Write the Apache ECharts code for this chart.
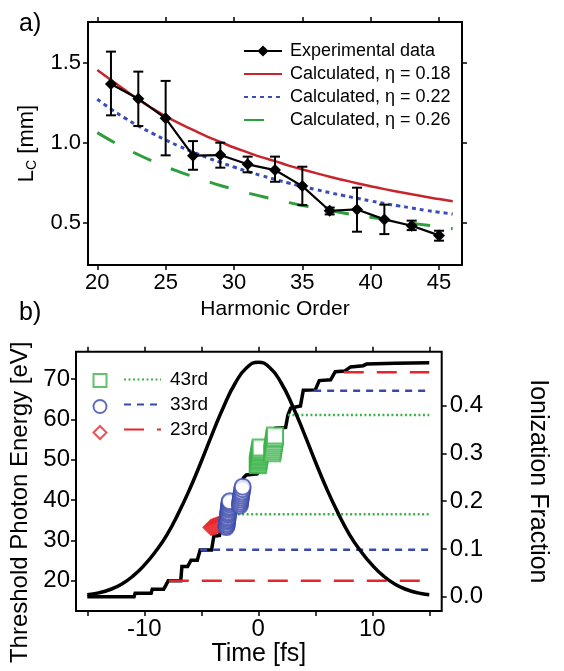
<!DOCTYPE html>
<html>
<head>
<meta charset="utf-8">
<script src="https://cdn.jsdelivr.net/npm/echarts@6/dist/echarts.min.js"></script>
<style>html,body{margin:0;padding:0;background:#fff}#c{width:564px;height:671px}</style>
</head>
<body>
<div id="c"></div>
<script>
// ---------- Panel a) data ----------
const harmonics = [21, 23, 25, 27, 29, 31, 33, 35, 37, 39, 41, 43, 45];
const lcExp     = [1.367, 1.275, 1.152, 0.919, 0.923, 0.865, 0.829, 0.729, 0.575, 0.583, 0.521, 0.481, 0.421];
const errLow    = [1.171, 1.104, 0.921, 0.831, 0.844, 0.815, 0.756, 0.610, 0.552, 0.444, 0.429, 0.454, 0.388];
const errHigh   = [1.569, 1.444, 1.386, 1.010, 1.000, 0.913, 0.913, 0.850, 0.595, 0.719, 0.613, 0.513, 0.450];
const calcOrders = [20,21,22,23,24,25,26,27,28,29,30,31,32,33,34,35,36,37,38,39,40,41,42,43,44,45,46];
const calc018 = [1.454,1.392,1.330,1.270,1.215,1.165,1.120,1.080,1.040,1.005,0.970,0.940,0.910,0.885,0.857,0.833,0.810,0.787,0.767,0.747,0.728,0.710,0.694,0.678,0.662,0.648,0.634];
const calc022 = [1.271,1.210,1.155,1.105,1.060,1.017,0.978,0.942,0.908,0.877,0.848,0.820,0.795,0.771,0.748,0.727,0.707,0.688,0.670,0.653,0.636,0.620,0.606,0.592,0.578,0.566,0.554];
const calc026 = [1.063,1.013,0.967,0.925,0.886,0.850,0.818,0.788,0.760,0.733,0.709,0.686,0.665,0.645,0.626,0.608,0.592,0.576,0.561,0.547,0.534,0.521,0.509,0.497,0.486,0.475,0.463];
const topXTicks = [20, 25, 30, 35, 40, 45];
const topYTicks = [0.5, 1.0, 1.5];

// ---------- Panel b) data ----------
const timeFs   = [-15,-14,-13,-12,-11,-10,-9,-8,-7,-6,-5,-4,-3,-2,-1,0,1,2,3,4,5,6,7,8,9,10,11,12,13,14,15];
const pulseEnv = [0.004,0.008,0.015,0.026,0.043,0.066,0.095,0.130,0.175,0.226,0.283,0.343,0.400,0.448,0.480,0.491,0.480,0.448,0.400,0.343,0.283,0.226,0.175,0.130,0.095,0.066,0.043,0.026,0.015,0.008,0.004];
const stepT = [-15,-10.9,-10.8,-9.4,-9.3,-8.3,-8.1,-7.9,-6.8,-6.7,-6.2,-5.9,-5.35,-5.1,-4.1,-3.9,-3.4,-3.3,-2.9,-2.8,-2.4,-2.3,-1.9,-1.8,-1.4,-1.3,-1.05,-0.1,0.05,0.25,0.6,0.7,1.1,1.2,1.5,2.4,2.6,2.85,3.7,3.95,5.0,5.35,6.35,6.75,7.6,8.1,9.2,9.5,12,15];
const stepE = [16.0,16.0,16.9,16.9,17.9,17.9,18.9,20.0,20.0,23.5,23.5,25.1,25.1,27.6,27.6,31.0,31.2,33.5,33.7,36.0,36.2,39.0,39.2,42.0,42.2,45.5,46.2,46.5,47.3,50.0,50.3,53.0,53.3,56.5,57.8,58.0,61.1,62.8,63.3,67.2,67.3,69.6,69.8,71.8,72.0,73.0,73.3,73.7,73.9,74.0];
const diamondT = [-4.15,-4.05,-3.95,-3.85,-3.75,-3.65,-3.55,-3.45,-3.35,-3.25,-3.15,-3.05,-2.95];
const diamondE = [33.2,33.3,33.4,33.5,33.6,33.7,33.8,33.9,34.0,34.1,34.2,34.3,34.4];
const circleT = [-2.8,-2.78,-2.76,-2.74,-2.72,-2.7,-2.68,-2.66,-2.64,-2.62,-2.6,-2.58,-2.56,-2.54,-2.52,-2.5,-1.62,-1.6,-1.58,-1.55,-1.52,-1.5,-1.47,-1.44,-1.4,-1.37];
const circleE = [33.3,33.7,34.1,34.6,35.0,35.4,35.8,36.3,36.7,37.1,37.6,38.0,38.4,38.9,39.3,39.7,38.6,39.1,39.6,40.1,40.6,41.1,41.6,42.1,42.7,43.3];
const squareT = [-0.05,-0.03,-0.01,0.01,0.03,0.05,0.07,0.09,0.11,0.13,0.15,0.17,0.19,0.21,1.22,1.25,1.28,1.3,1.33,1.36,1.38,1.41,1.44,1.47];
const squareE = [48.6,48.9,49.3,49.6,49.9,50.3,50.6,50.9,51.3,51.6,51.9,52.3,52.6,53.0,51.6,52.1,52.6,53.1,53.6,54.1,54.6,55.1,55.5,56.0];
const h23Start = [-7.85, 7.5];  const h23Level = [20.0, 71.7];
const h33Start = [-5.1, 4.9];   const h33Level = [27.7, 67.1];
const h43Start = [-2.6, 2.6];   const h43Level = [36.5, 61.1];
const lineEnd = 15;
const botXTicks = [-15, -10, -5, 0, 5, 10, 15];
const botXLabels = [-10, 0, 10];
const leftYTicks = [20, 30, 40, 50, 60, 70];
const rightYTicks = [0.0, 0.1, 0.2, 0.3, 0.4];

// ---------- styles ----------
const FONT = 'Liberation Sans, Arial, sans-serif';
const RED_A = '#c8242b', BLUE_A = '#3b4db5', GREEN_A = '#2e9e3e';
const RED_B = '#e8262a', BLUE_B = '#3a48aa', GREEN_B = '#3bb34a';

const zip = (a, b) => a.map((v, i) => [v, b[i]]);

function hSeries(name, starts, levels, color, dash, width) {
  return starts.map((s, i) => ({
    name: name, type: 'line', xAxisIndex: 2, yAxisIndex: 2,
    data: [[s, levels[i]], [lineEnd, levels[i]]],
    symbol: 'none', z: 4, silent: true,
    lineStyle: { color: color, width: width, type: dash }, itemStyle: { color: color }
  }));
}

const tickStyle = { show: true, inside: false, length: 5, lineStyle: { color: '#000', width: 1.5 } };
const noLine = { show: false, onZero: false };
const noSym = { opacity: 0 };

const chart = echarts.init(document.getElementById('c'), null, { renderer: 'canvas' });
const option = {
  animation: false,
  backgroundColor: '#fff',
  textStyle: { fontFamily: FONT, color: '#000' },
  title: [
    { text: 'a)', left: 14, top: 7, textStyle: { fontSize: 25, fontWeight: 'normal', fontFamily: FONT, color: '#000' } },
    { text: 'b)', left: 14, top: 296, textStyle: { fontSize: 25, fontWeight: 'normal', fontFamily: FONT, color: '#000' } }
  ],
  grid: [
    { left: 88, top: 22, width: 374, height: 243, show: true, borderColor: '#000', borderWidth: 2, backgroundColor: 'transparent' },
    { left: 76, top: 351.7, width: 365.7, height: 259.3, show: true, borderColor: '#000', borderWidth: 2, backgroundColor: 'transparent' }
  ],
  legend: [
    {
      left: 238, top: 36, orient: 'vertical', itemWidth: 38, itemHeight: 14, itemGap: 3, selectedMode: false,
      data: ['Experimental data',
             { name: 'Calculated, η = 0.18', itemStyle: noSym },
             { name: 'Calculated, η = 0.22', itemStyle: noSym },
             { name: 'Calculated, η = 0.26', itemStyle: noSym }],
      textStyle: { fontSize: 18, color: '#000', fontFamily: FONT, lineHeight: 20, padding: [0, 0, 0, 3] }
    },
    {
      left: 87.5, top: 368, orient: 'vertical', itemWidth: 13, itemHeight: 13, itemGap: 11, selectedMode: false,
      data: ['m43', 'm33', 'm23'], formatter: function () { return ''; },
      textStyle: { fontSize: 1, lineHeight: 1 }
    },
    {
      left: 118, top: 362, orient: 'vertical', itemWidth: 37, itemHeight: 14, itemGap: 0, selectedMode: false,
      data: [{ name: '43rd', itemStyle: noSym }, { name: '33rd', itemStyle: noSym }, { name: '23rd', itemStyle: noSym }],
      textStyle: { fontSize: 19, color: '#000', fontFamily: FONT, lineHeight: 25, padding: [0, 0, 0, 4] }
    }
  ],
  xAxis: [
    { gridIndex: 0, type: 'value', min: 19.32, max: 46.68, position: 'bottom',
      axisLine: noLine, splitLine: { show: false },
      axisTick: Object.assign({ customValues: topXTicks }, tickStyle),
      axisLabel: { customValues: topXTicks, fontSize: 22, margin: 7, color: '#000', fontFamily: FONT },
      name: 'Harmonic Order', nameLocation: 'middle', nameGap: 34,
      nameTextStyle: { fontSize: 21, color: '#000', fontFamily: FONT } },
    { gridIndex: 0, type: 'value', min: 19.32, max: 46.68, position: 'top',
      axisLine: noLine, splitLine: { show: false },
      axisTick: Object.assign({ customValues: topXTicks }, tickStyle),
      axisLabel: { show: false } },
    { gridIndex: 1, type: 'value', min: -15.99, max: 16.09, position: 'bottom',
      axisLine: noLine, splitLine: { show: false },
      axisTick: Object.assign({ customValues: botXTicks }, tickStyle),
      axisLabel: { customValues: botXLabels, fontSize: 24, margin: 6, color: '#000', fontFamily: FONT },
      name: 'Time [fs]', nameLocation: 'middle', nameGap: 28,
      nameTextStyle: { fontSize: 25, color: '#000', fontFamily: FONT } },
    { gridIndex: 1, type: 'value', min: -15.99, max: 16.09, position: 'top',
      axisLine: noLine, splitLine: { show: false },
      axisTick: Object.assign({ customValues: botXTicks }, tickStyle),
      axisLabel: { show: false } }
  ],
  yAxis: [
    { gridIndex: 0, type: 'value', min: 0.236, max: 1.754, position: 'left',
      axisLine: noLine, splitLine: { show: false },
      axisTick: Object.assign({ customValues: topYTicks }, tickStyle),
      axisLabel: { customValues: topYTicks, fontSize: 22, margin: 7, color: '#000', fontFamily: FONT,
                   formatter: v => v.toFixed(1) },
      name: '{m|L}{s|C}{m| [mm]}', nameLocation: 'middle', nameGap: 47,
      nameTextStyle: { color: '#000', fontFamily: FONT,
        rich: { m: { fontSize: 22, lineHeight: 26, verticalAlign: 'middle', fontFamily: FONT, color: '#000' },
                s: { fontSize: 14, lineHeight: 14, verticalAlign: 'bottom', fontFamily: FONT, color: '#000' } } } },
    { gridIndex: 0, type: 'value', min: 0.236, max: 1.754, position: 'right',
      axisLine: noLine, splitLine: { show: false },
      axisTick: Object.assign({ customValues: topYTicks }, tickStyle),
      axisLabel: { show: false } },
    { gridIndex: 1, type: 'value', min: 12.49, max: 76.77, position: 'left',
      axisLine: noLine, splitLine: { show: false },
      axisTick: Object.assign({ customValues: leftYTicks }, tickStyle),
      axisLabel: { customValues: leftYTicks, fontSize: 24, margin: 6, color: '#000', fontFamily: FONT },
      name: 'Threshold Photon Energy [eV]', nameLocation: 'middle', nameGap: 42,
      nameTextStyle: { fontSize: 24, color: '#000', fontFamily: FONT, padding: [0, 42, 0, 0] } },
    { gridIndex: 1, type: 'value', min: -0.030, max: 0.513, position: 'right',
      axisLine: noLine, splitLine: { show: false },
      axisTick: Object.assign({ customValues: rightYTicks }, tickStyle),
      axisLabel: { customValues: rightYTicks, fontSize: 24, margin: 8, color: '#000', fontFamily: FONT,
                   formatter: v => v.toFixed(1) },
      name: 'Ionization Fraction', nameLocation: 'middle', nameGap: 84, nameRotate: -90,
      nameTextStyle: { fontSize: 25, color: '#000', fontFamily: FONT } }
  ],
  series: [
    // ----- panel a -----
    { name: 'Calculated, η = 0.18', type: 'line', xAxisIndex: 0, yAxisIndex: 0, smooth: true, symbol: 'none',
      data: zip(calcOrders, calc018), z: 2, lineStyle: { color: RED_A, width: 2.5 }, itemStyle: { color: RED_A } },
    { name: 'Calculated, η = 0.22', type: 'line', xAxisIndex: 0, yAxisIndex: 0, smooth: true, symbol: 'none',
      data: zip(calcOrders, calc022), z: 2, lineStyle: { color: BLUE_A, width: 3, type: [4, 4] }, itemStyle: { color: BLUE_A } },
    { name: 'Calculated, η = 0.26', type: 'line', xAxisIndex: 0, yAxisIndex: 0, smooth: true, symbol: 'none',
      data: zip(calcOrders, calc026), z: 2, lineStyle: { color: GREEN_A, width: 3, type: [20, 21] }, itemStyle: { color: GREEN_A } },
    { name: 'errbars', type: 'custom', xAxisIndex: 0, yAxisIndex: 0, z: 3,
      data: harmonics.map((h, i) => [h, errLow[i], errHigh[i]]),
      encode: { x: 0, y: [1, 2] },
      renderItem: function (params, api) {
        const x = api.value(0);
        const pt = api.coord([x, api.value(2)]);
        const pb = api.coord([x, api.value(1)]);
        const w = 5;
        const st = { stroke: '#000', lineWidth: 2 };
        return { type: 'group', children: [
          { type: 'line', shape: { x1: pt[0], y1: pt[1], x2: pb[0], y2: pb[1] }, style: st },
          { type: 'line', shape: { x1: pt[0] - w, y1: pt[1], x2: pt[0] + w, y2: pt[1] }, style: st },
          { type: 'line', shape: { x1: pb[0] - w, y1: pb[1], x2: pb[0] + w, y2: pb[1] }, style: st }
        ] };
      } },
    { name: 'Experimental data', type: 'line', xAxisIndex: 0, yAxisIndex: 0, z: 4,
      data: zip(harmonics, lcExp), symbol: 'diamond', symbolSize: 12, showSymbol: true,
      lineStyle: { color: '#000', width: 2.2 }, itemStyle: { color: '#000' } },

    // ----- panel b -----
    { name: 'threshold', type: 'line', xAxisIndex: 2, yAxisIndex: 2, symbol: 'none', z: 3,
      data: zip(stepT, stepE), lineStyle: { color: '#000', width: 3.5, join: 'miter' } },
    ...hSeries('23rd', h23Start, h23Level, RED_B, [20, 13], 2.5),
    ...hSeries('33rd', h33Start, h33Level, BLUE_B, [7, 6], 2.5),
    ...hSeries('43rd', h43Start, h43Level, GREEN_B, [2, 2.5], 2.5),
    { name: 'pulse', type: 'line', xAxisIndex: 2, yAxisIndex: 3, smooth: true, symbol: 'none', z: 5,
      data: zip(timeFs, pulseEnv), lineStyle: { color: '#000', width: 3.5 } },
    { name: 'm23', type: 'scatter', xAxisIndex: 2, yAxisIndex: 2, z: 6, symbol: 'emptyDiamond', symbolSize: 15,
      data: zip(diamondT, diamondE), itemStyle: { color: RED_B, borderWidth: 1.3 } },
    { name: 'm33', type: 'scatter', xAxisIndex: 2, yAxisIndex: 2, z: 7, symbol: 'emptyCircle', symbolSize: 16,
      data: zip(circleT, circleE), itemStyle: { color: BLUE_B, borderWidth: 1.3 } },
    { name: 'm43', type: 'scatter', xAxisIndex: 2, yAxisIndex: 2, z: 8, symbol: 'emptyRect', symbolSize: 16,
      data: zip(squareT, squareE), itemStyle: { color: GREEN_B, borderWidth: 1.3 } }
  ]
};
chart.setOption(option);
</script>
</body>
</html>
